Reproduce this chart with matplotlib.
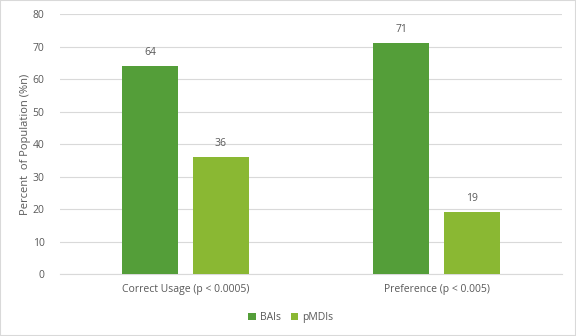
import numpy as np
import matplotlib.pyplot as plt

categories = ["Correct Usage (p < 0.0005)", "Preference (p < 0.005)"]
bais = [64, 71]
pmdis = [36, 19]

gray = "#595959"
plt.rcParams['font.family'] = ['Open Sans', 'DejaVu Sans']

fig = plt.figure(figsize=(5.76, 3.36), dpi=100)
ax = fig.add_axes([0.104, 0.1845, 0.872, 0.7735])

x = np.arange(len(categories))
w = 0.223
off = 0.1414
b1 = ax.bar(x - off, bais, w, color="#549E39", label="BAIs", zorder=3)
b2 = ax.bar(x + off, pmdis, w, color="#8AB833", label="pMDIs", zorder=3)
for bars in (b1, b2):
    ax.bar_label(bars, padding=6, fontsize=7.5, color=gray)

ax.set_xlim(-0.5, 1.5)
ax.set_ylim(0, 80)
ax.set_yticks(range(0, 81, 10))
ax.set_xticks(x)
ax.set_xticklabels(categories)
ax.tick_params(axis='both', length=0, labelsize=7.5, colors=gray)
ax.tick_params(axis='y', pad=11)
ax.tick_params(axis='x', pad=7)
ax.grid(axis='y', color="#D9D9D9", linewidth=0.8, zorder=0)
for s in ax.spines.values():
    s.set_visible(False)
ax.spines['bottom'].set_visible(True)
ax.spines['bottom'].set_color("#D9D9D9")
ax.set_ylabel("Percent  of Population (%n)", fontsize=8, color=gray, labelpad=1)

ax.legend(loc='upper center', bbox_to_anchor=(0.46, -0.11), ncol=2, frameon=False,
          fontsize=7.5, labelcolor=gray, handlelength=0.7, handleheight=0.7,
          columnspacing=1.0, handletextpad=0.4)

fig.patches.append(plt.Rectangle((0, 0), 1, 1, transform=fig.transFigure,
                                 fill=False, edgecolor="#D9D9D9", linewidth=1.5))
fig.savefig("out.png", dpi=100)
